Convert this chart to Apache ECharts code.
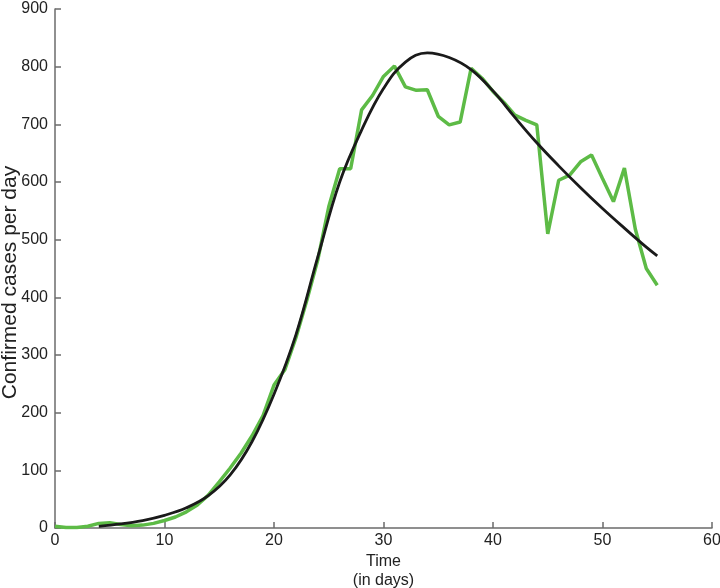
<!DOCTYPE html>
<html>
<head>
<meta charset="utf-8">
<script src="https://cdn.jsdelivr.net/npm/echarts@6/dist/echarts.min.js"></script>
<style>html,body{margin:0;padding:0;background:#fff}#c{width:720px;height:588px}</style>
</head>
<body>
<div id="c"></div>
<script>
// Observed confirmed cases per day (days 0..55)
const days = [0,1,2,3,4,5,6,7,8,9,10,11,12,13,14,15,16,17,18,19,20,21,22,23,24,25,26,27,28,29,30,31,32,33,34,35,36,37,38,39,40,41,42,43,44,45,46,47,48,49,50,51,52,53,54,55];
const observed = [3,1,1,3,8,9,6,4,5,8,13,19,28,40,57,80,104,130,160,195,248,275,330,395,465,557,623,623,725,750,783,801,765,759,760,714,699,704,797,780,757,738,716,707,699,510,603,612,635,647,606,566,624,518,450,421];
// Fitted curve
const fitDays = [4,6,8,10,12,14,16,18,20,22,24,26,28,30,32,34,36,38,40,42,44,46,48,50,52,54,55];
const fitted = [3,7,13,22,35,56,92,150,232,335,470,600,690,762,808,824,816,795,758,712,668,628,590,554,520,487,472];
const xTicks = [0,10,20,30,40,50,60];
const yTicks = [0,100,200,300,400,500,600,700,800,900];

const chart = echarts.init(document.getElementById('c'), null, {renderer:'canvas'});
const axisCol = '#6b6b6b';
const font = 'Liberation Sans, Arial, Helvetica, sans-serif';
chart.setOption({
  animation:false,
  backgroundColor:'#fff',
  grid:{left:55,right:8,top:9,bottom:60,containLabel:false,outerBoundsMode:'none'},
  xAxis:{
    type:'value',min:xTicks[0],max:xTicks[xTicks.length-1],interval:10,
    name:'Time\n(in days)',nameLocation:'middle',nameGap:24,nameMoveOverlap:false,
    nameTextStyle:{color:'#222',fontSize:16,fontFamily:font,lineHeight:19},
    axisLine:{show:true,lineStyle:{color:axisCol,width:1.5}},
    axisTick:{show:true,inside:true,length:6,lineStyle:{color:axisCol,width:1.5}},
    axisLabel:{color:'#222',fontSize:16,fontFamily:font,margin:5},
    splitLine:{show:false}
  },
  yAxis:{
    type:'value',min:yTicks[0],max:yTicks[yTicks.length-1],interval:100,
    name:'Confirmed cases per day',nameLocation:'middle',nameGap:34,nameRotate:90,nameMoveOverlap:false,
    nameTextStyle:{color:'#222',fontSize:21,fontFamily:font,padding:[0,28,0,0]},
    axisLine:{show:true,lineStyle:{color:axisCol,width:1.5}},
    axisTick:{show:true,inside:true,length:6,lineStyle:{color:axisCol,width:1.5}},
    axisLabel:{color:'#222',fontSize:16,fontFamily:font,margin:7},
    splitLine:{show:false}
  },
  series:[
    {type:'line',data:days.map((d,i)=>[d,observed[i]]),showSymbol:false,
     lineStyle:{color:'#5DBB46',width:3.5},z:2},
    {type:'line',data:fitDays.map((d,i)=>[d,fitted[i]]),showSymbol:false,smooth:0.4,
     lineStyle:{color:'#1a1a1a',width:2.8},z:3}
  ]
});
</script>
</body>
</html>
